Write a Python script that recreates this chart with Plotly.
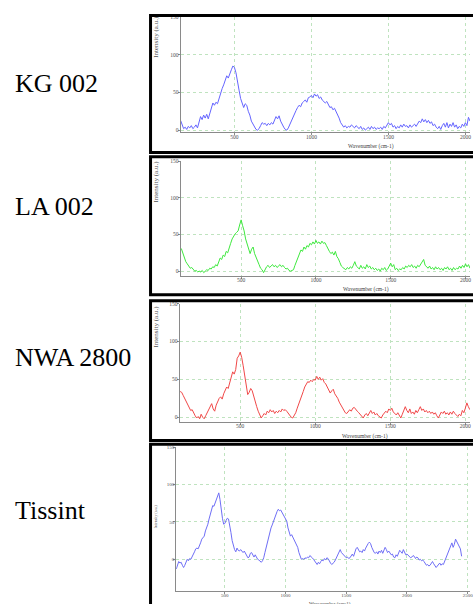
import plotly.graph_objects as go

W, H = 473, 604

# ---------------- data ----------------
sample_names = ["KG 002", "LA 002", "NWA 2800", "Tissint"]
x_title = "Wavenumber (cm-1)"
y_title = "Intensity (a.u.)"
y_ticks = [0, 50, 100, 150]
x_ticks_a = [500, 1000, 1500, 2000]
x_ticks_b = [500, 1000, 1500, 2000, 2500]

step = 10
kg002_start = 150
kg002 = [13, 6, 2, 4, 1, 5, 3, 6, 2, 4,
         7, 3, 9, 18, 14, 20, 16, 21, 15, 22,
         30, 36, 33, 37, 35, 42, 50, 55, 60, 65,
         72, 69, 76, 80, 85, 83, 76, 62, 53, 42,
         34, 30, 35, 33, 25, 20, 12, 8, 3, 1,
         0, 2, 6, 10, 8, 9, 6, 9, 7, 10,
         8, 12, 18, 15, 19, 12, 7, 4, 1, 0,
         3, 8, 12, 18, 22, 26, 30, 33, 31, 36,
         38, 40, 37, 43, 44, 46, 43, 48, 45, 47,
         42, 44, 40, 38, 36, 38, 33, 30, 31, 27,
         29, 25, 22, 16, 10, 6, 4, 6, 3, 5,
         4, 7, 5, 3, 6, 4, 2, 5, 1, 3,
         0, 2, 4, 1, 5, 2, 4, 1, 3, 2,
         4, 1, 5, 3, 6, 10, 7, 9, 4, 6,
         2, 5, 3, 7, 4, 8, 5, 6, 3, 7,
         4, 6, 8, 5, 9, 12, 10, 15, 11, 14,
         10, 13, 9, 11, 6, 8, 4, 2, 5, 1,
         6, 9, 4, 10, 3, 8, 5, 10, 4, 7,
         2, 5, 3, 8, 5, 10, 6, 17, 12]

la002_start = 100
la002 = [31, 24, 18, 13, 10, 6, 4, 5, 2, 0,
         1, -1, 0, -1, 1, -2, 0, 2, 1, 4,
         3, 6, 5, 9, 7, 12, 18, 16, 22, 20,
         27, 25, 33, 38, 44, 48, 51, 53, 55, 63,
         70, 62, 55, 44, 36, 29, 24, 30, 33, 24,
         18, 13, 9, 4, 2, -2, 3, 6, 8, 5,
         7, 9, 6, 8, 5, 7, 9, 6, 8, 5,
         3, 4, 1, 0, 1, 2, 8, 14, 20, 24,
         29, 27, 33, 30, 35, 33, 38, 36, 40, 37,
         42, 38, 40, 37, 41, 38, 39, 35, 30, 27,
         24, 26, 22, 27, 20, 17, 12, 7, 5, 3,
         2, 5, 3, 6, 4, 8, 13, 7, 5, 3,
         8, 4, 6, 3, 9, 5, 7, 3, 5, 2,
         4, 1, 3, 0, 4, 2, 5, 1, 3, 7,
         11, 6, 9, 2, 4, 1, 3, 2, 5, 3,
         7, 5, 8, 6, 9, 5, 7, 4, 8, 6,
         9, 12, 16, 8, 6, 4, 7, 3, 5, 2,
         6, 3, 5, 2, 4, 1, 5, 3, 6, 2,
         4, 1, 5, 2, 4, 3, 7, 4, 8, 5,
         10, 6, 9, 4]

nwa2800_start = 100
nwa2800 = [34, 33, 29, 25, 21, 17, 12, 9, 10, 5,
           2, -1, 1, -2, 4, 0, -2, 2, 6, 12,
           15, 18, 11, 8, 16, 22, 25, 27, 24, 31,
           35, 40, 38, 45, 52, 60, 57, 63, 78, 81,
           86, 79, 68, 57, 42, 30, 33, 38, 35, 27,
           21, 14, 8, 3, -1, 2, 5, 3, 8, 6,
           10, 7, 9, 5, 8, 6, 9, 7, 11, 9,
           10, 8, 5, 3, 0, -1, 2, 6, 12, 17,
           23, 28, 34, 40, 44, 47, 46, 49, 47, 50,
           49, 54, 50, 53, 49, 51, 46, 44, 40, 36,
           32, 35, 37, 31, 28, 25, 20, 16, 12, 9,
           6, 5, 7, 10, 8, 12, 13, 10, 8, 6,
           4, 1, -1, 3, 5, 2, 6, 9, 5, 7,
           3, 5, 2, 0, -1, 3, 5, 8, 6, 11,
           9, 12, 7, 5, 3, 6, 2, -1, 4, 8,
           14, 9, 6, 11, 5, 7, 4, 9, 6, 10,
           14, 9, 11, 7, 9, 6, 8, 5, 7, 4,
           6, 2, -1, 3, 7, 5, 8, 4, 6, 3,
           7, 4, 8, 5, 3, 1, 4, 2, 9, 6,
           12, 19, 14, 10]

tissint_start = 100
tissint = [-13, -6, -3, -5, -4, -8, -11, -8, -3, 0,
           -2, 1, 0, 3, 5, 10, 14, 15, 14, 17,
           22, 27, 29, 31, 38, 42, 47, 54, 60, 68,
           72, 71, 76, 82, 86, 89, 80, 66, 55, 47,
           48, 52, 55, 54, 47, 36, 25, 18, 13, 10,
           15, 12, 11, 13, 10, 9, 11, 8, 7, 2,
           3, 8, 9, 5, 3, 6, 2, 0, -1, -3,
           -4, -2, 2, 9, 16, 23, 31, 37, 42, 46,
           51, 54, 58, 64, 67, 65, 66, 63, 61, 59,
           55, 51, 42, 34, 31, 33, 30, 27, 24, 20,
           16, 9, 3, 0, 1, 0, 2, 1, 3, 2,
           5, 4, 2, 0, -2, -5, -7, -4, -6, -3,
           -1, -2, 1, -1, 2, 1, -3, -5, -7, -6,
           -4, -1, 2, 6, 10, 13, 9, 7, 5, 4,
           2, 3, 1, 2, 5, 7, 4, 10, 14, 16,
           12, 10, 11, 9, 13, 11, 15, 19, 21, 23,
           21, 16, 12, 9, 8, 10, 7, 11, 9, 12,
           8, 11, 16, 13, 9, 11, 8, 6, 7, 3,
           2, 6, 4, 9, 12, 10, 8, 13, 9, 6,
           7, 5, 4, 2, 3, 5, 4, 1, 3, 2,
           -1, 0, -2, -1, -3, -6, -8, -7, -9, -8,
           -5, -3, -6, -8, -11, -9, -7, -5, -8, -6,
           -7, -3, 2, 5, 8, 13, 17, 22, 16, 20,
           27, 24, 21, 18, 14, 4]

series = [(kg002_start, kg002), (la002_start, la002),
          (nwa2800_start, nwa2800), (tissint_start, tissint)]

# ---------------- layout (pixel geometry) ----------------
def px(x):
    return x / W

def py(y):
    return 1 - y / H

colors = ["#6464ff", "#3ee83e", "#f04848", "#6e6ef5"]
# plot box: left px, top px (y=150), bottom px (axis line)
boxes = [(181.7, 14.0, 130.0), (181.7, 159.3, 274.7),
         (180.7, 302.7, 421.3), (177.3, 447.3, 591.7)]
x_ranges = [[150, 2030], [95, 2030], [96, 2031], [99, 2519]]
y_ranges = [[-2.6, 150], [-6.4, 150], [-5.6, 150], [-42.2, 150]]
x_tickvals = [x_ticks_a, x_ticks_a, x_ticks_a, x_ticks_b]
tick_sizes = [5.5, 5.5, 5.5, 5]
ytitle_sizes = [7, 7, 7, 4]
ytitle_pos = [(157, 34), (156.7, 180), (156.7, 326), (157, 517)]
xtitle_pos = [(373.7, 144.3), (368, 288.7), (367.3, 436), (332, 605)]
xtitle_sizes = [5.5, 5.5, 5.5, 5]
label_y = [81, 205, 357, 511]
frames = [(12.5, 150.5), (154.7, 293.6), (299.8, 440.5), (444.3, 640)]

fig = go.Figure()
layout = dict(width=W, height=H, margin=dict(l=0, r=0, t=0, b=0),
              paper_bgcolor="white", plot_bgcolor="white", showlegend=False)
grid_col = "#bfe3bf"
serif = "Liberation Serif, Times New Roman, serif"

for i, (start, vals) in enumerate(series):
    xs = [start + step * k for k in range(len(vals))]
    n = "" if i == 0 else str(i + 1)
    fig.add_trace(go.Scatter(x=xs, y=vals, mode="lines",
                             line=dict(color=colors[i], width=1),
                             xaxis="x" + n, yaxis="y" + n,
                             hoverinfo="skip"))
    left, top, bottom = boxes[i]
    layout["xaxis" + n] = dict(
        domain=[px(left), 1], range=x_ranges[i], anchor="y" + n,
        tickvals=x_tickvals[i], showgrid=True, gridcolor=grid_col,
        griddash="dot", gridwidth=1, zeroline=False, showline=True,
        linecolor="#8a8a8a", linewidth=1, ticks="outside", ticklen=2,
        tickcolor="#8a8a8a", ticklabeloverflow="allow",
        ticklabelstandoff=-3,
        tickfont=dict(family=serif, size=tick_sizes[i], color="#505050"))
    layout["yaxis" + n] = dict(
        domain=[py(bottom), py(top)], range=y_ranges[i], anchor="x" + n,
        tickvals=y_ticks, showgrid=True, gridcolor=grid_col,
        griddash="dot", gridwidth=1, zeroline=False, showline=True,
        linecolor="#8a8a8a", linewidth=1, ticks="outside", ticklen=2,
        tickcolor="#8a8a8a", ticklabeloverflow="allow",
        ticklabelstandoff=-2,
        tickfont=dict(family=serif, size=tick_sizes[i], color="#505050"))

annotations = []
shapes = []
for i in range(4):
    annotations.append(dict(text=sample_names[i], xref="paper", yref="paper",
                            x=px(13), y=py(label_y[i]), xanchor="left",
                            yanchor="middle", showarrow=False,
                            font=dict(family=serif, size=26, color="black")))
    yx, yy = ytitle_pos[i]
    annotations.append(dict(text=y_title, xref="paper", yref="paper",
                            x=px(yx), y=py(yy), xanchor="center",
                            yanchor="middle", textangle=-90, showarrow=False,
                            font=dict(family=serif, size=ytitle_sizes[i],
                                      color="#505050")))
    tx, ty = xtitle_pos[i]
    annotations.append(dict(text=x_title, xref="paper", yref="paper",
                            x=px(tx), y=py(ty), xanchor="center",
                            yanchor="middle", showarrow=False,
                            font=dict(family=serif, size=xtitle_sizes[i],
                                      color="#404040")))
    f_top, f_bot = frames[i]
    shapes.append(dict(type="rect", xref="paper", yref="paper",
                       x0=px(151.5), x1=px(520), y0=py(f_bot), y1=py(f_top),
                       line=dict(color="black", width=3), layer="above"))

layout["annotations"] = annotations
layout["shapes"] = shapes
fig.update_layout(**layout)
fig.write_html("out.html",
               config={"displayModeBar": False},
               post_script="document.body.style.margin='0';"
                           "document.body.style.overflow='hidden';")
